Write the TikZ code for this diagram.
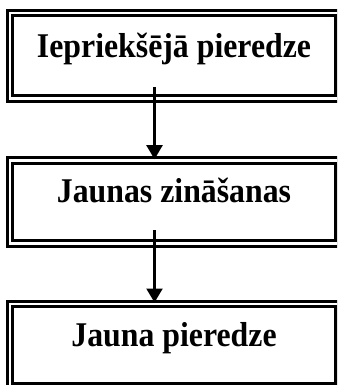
\documentclass[tikz,border=0pt]{standalone}
\usepackage{fontspec}
\setmainfont{Liberation Serif}
\usetikzlibrary{arrows.meta}
\newcommand{\tallword}[1]{\scalebox{1}[1.09]{#1}}
\begin{document}
\begin{tikzpicture}[x=1pt,y=-1pt,
  stagebox/.style={draw=black, double=white, line width=3pt, double distance=2.6pt,
    minimum width=328pt, inner sep=0pt, font=\fontsize{31.8pt}{36pt}\selectfont\bfseries},
  flow/.style={line width=2.2pt, -{Triangle[width=16pt,length=14pt]}}]
  \useasboundingbox (0,0) rectangle (337,385);
  \clip (0,0) rectangle (337,385);
  \fill[white] (0,0) rectangle (337,385);

  % the three stages, each framed by a double border
  \node[stagebox, minimum height=85.5pt, text height=20pt, text depth=15.5pt]
    (box1) at (174,55.75) {\tallword{Iepriekšējā pieredze}};
  \node[stagebox, minimum height=82.6pt, text height=20pt, text depth=18.6pt]
    (box2) at (174,202) {\tallword{Jaunas zināšanas}};
  \node[stagebox, minimum height=82pt, text height=20pt, text depth=18pt]
    (box3) at (174,345) {\tallword{Jauna pieredze}};

  % arrows start inside the upper box and end on the next one
  \coordinate (s1) at (154.5,87);
  \coordinate (s2) at (154.5,230);
  \draw[flow] (s1) -- (s1 |- box2.north);
  \draw[flow] (s2) -- (s2 |- box3.north);
\end{tikzpicture}
\end{document}
